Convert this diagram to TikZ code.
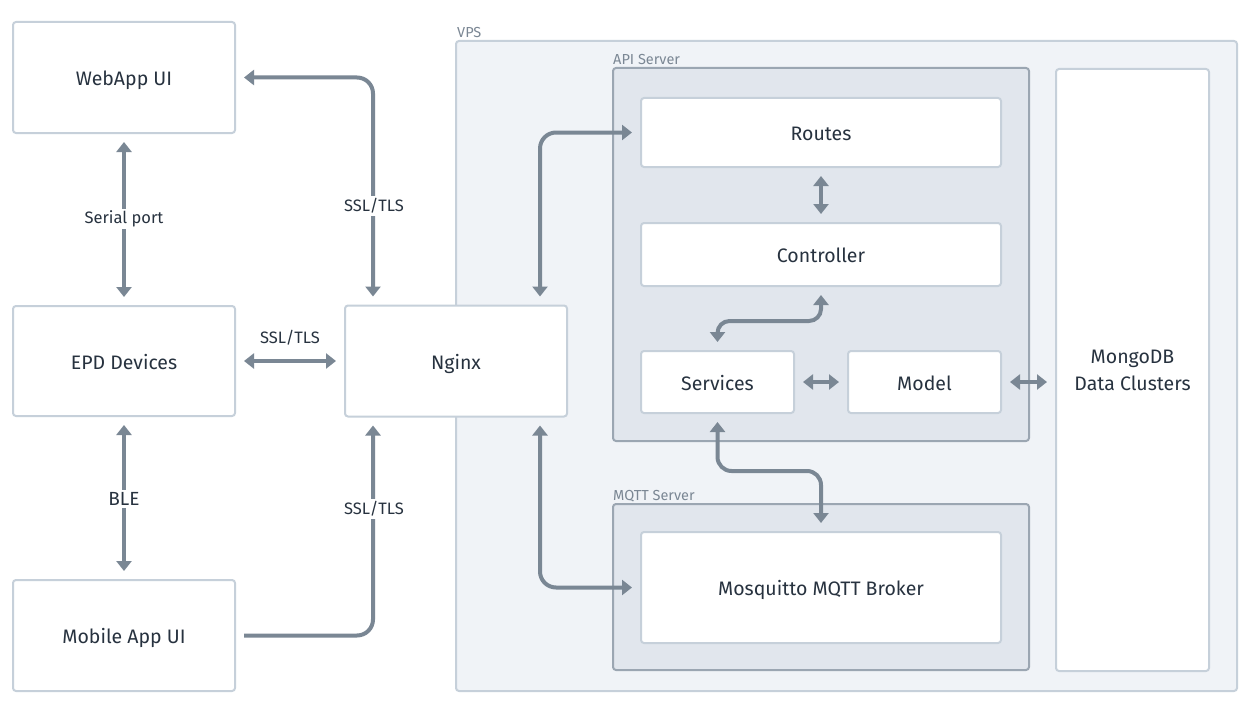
\documentclass[tikz,border=0pt]{standalone}
\usepackage{fontspec}
\setmainfont{Fira Sans}
\usetikzlibrary{arrows.meta,calc}
\definecolor{txt}{HTML}{27323F}
\definecolor{arr}{HTML}{7A8794}
\definecolor{bord}{HTML}{C6D0DA}
\definecolor{vpsfill}{HTML}{F0F3F7}
\definecolor{srvfill}{HTML}{E1E6ED}
\definecolor{srvbord}{HTML}{9BA6B2}
\definecolor{grp}{HTML}{7B8794}
\tikzset{
  box/.style={draw=bord, line width=2pt, fill=white, rounded corners=3pt, text=txt,
    font=\fontsize{19.5}{27}\selectfont, inner sep=0pt, align=center,
    text height=16pt, text depth=0pt},
  grpbox/.style={draw=bord, line width=2pt, fill=vpsfill, rounded corners=3pt},
  srvbox/.style={draw=srvbord, line width=2pt, fill=srvfill, rounded corners=3pt},
  grplbl/.style={text=grp, font=\fontsize{14.5}{16}\selectfont, anchor=base west, inner sep=0pt},
  lbl/.style={text=txt, font=\fontsize{16.5}{18}\selectfont, fill=white, inner sep=2pt},
  tipx/.tip={Triangle[width=15pt,length=10pt]},
  conn/.style={draw=arr, line width=4pt, tipx-tipx, shorten <=8pt, shorten >=8pt},
  conno/.style={draw=arr, line width=4pt, -tipx, shorten <=8pt, shorten >=8pt},
}
\begin{document}
\begin{tikzpicture}[x=1pt,y=-1pt]
\path[use as bounding box, fill=white] (0,0) rectangle (1257,706);
% groups
\draw[grpbox] (456,41) rectangle (1237,691);
\node[grplbl] (vpsl) at (457,38) {VPS};
\draw[srvbox] (613,68) rectangle (1029,441);
\node[grplbl] (apil) at (613,65) {API Server};
\draw[srvbox] (613,504) rectangle (1029,670);
\node[grplbl] (mqttl) at (613,500) {MQTT Server};
% nodes
\node[box, minimum width=222pt, minimum height=111pt] (web) at (124,77.5) {WebApp UI};
\node[box, minimum width=222pt, minimum height=110pt] (epd) at (124,361) {EPD Devices};
\node[box, minimum width=222pt, minimum height=111pt] (mob) at (124,635.5) {Mobile App UI};
\node[box, minimum width=222pt, minimum height=111pt] (ngx) at (456,361) {Nginx};
\node[box, minimum width=360pt, minimum height=69pt] (routes) at (821,132.5) {Routes};
\node[box, minimum width=360pt, minimum height=63pt] (ctrl) at (821,254.5) {Controller};
\node[box, minimum width=153pt, minimum height=62pt] (svc) at (717.5,382) {Services};
\node[box, minimum width=153pt, minimum height=62pt] (model) at (924.5,382) {Model};
\node[box, minimum width=360pt, minimum height=111pt] (broker) at (821,587.5) {Mosquitto MQTT Broker};
\node[box, minimum width=153pt, minimum height=602pt, text height=, text depth=] (mongo) at (1132.5,370) {MongoDB\\Data Clusters};
% connectors
\draw[conn, rounded corners=16pt] (web.east) -| ($(ngx.north west)+(29,0)$);
\node[lbl] (l1) at (374,206) {SSL/TLS};
\draw[conn] (web.south) -- (epd.north);
\node[lbl] (l2) at (124,219) {Serial port};
\draw[conn] (epd.east) -- (ngx.west);
\node[lbl] (l3) at (290,338) {SSL/TLS};
\draw[conn] (epd.south) -- (mob.north);
\node[lbl, font=\fontsize{19}{22}\selectfont] (l4) at (124,499) {BLE};
\draw[conno, rounded corners=16pt] (mob.east) -| ($(ngx.south west)+(29,0)$);
\node[lbl] (l5) at (374,509) {SSL/TLS};
\draw[conn, rounded corners=16pt] ($(ngx.north east)+(-28,0)$) |- (routes.west);
\draw[conn, rounded corners=16pt] ($(ngx.south east)+(-28,0)$) |- (broker.west);
\draw[conn] (routes.south) -- (ctrl.north);
\draw[conn, rounded corners=12pt] (ctrl.south) -- ++(0,34) -| (svc.north);
\draw[conn] (svc.east) -- (model.west);
\draw[conn] (model.east) -- (model.east -| mongo.west);
\draw[conn, rounded corners=14pt] (svc.south) -- ++(0,57) -| (broker.north);
\end{tikzpicture}
\end{document}
